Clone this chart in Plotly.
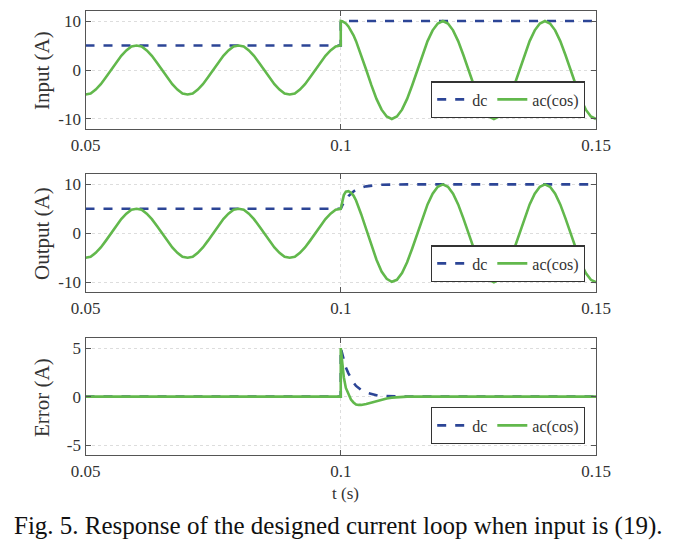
import plotly.graph_objects as go

# ---------------- data ----------------
t = [0.050, 0.051, 0.052, 0.053, 0.054, 0.055, 0.056, 0.057, 0.058, 0.059,
     0.060, 0.061, 0.062, 0.063, 0.064, 0.065, 0.066, 0.067, 0.068, 0.069,
     0.070, 0.071, 0.072, 0.073, 0.074, 0.075, 0.076, 0.077, 0.078, 0.079,
     0.080, 0.081, 0.082, 0.083, 0.084, 0.085, 0.086, 0.087, 0.088, 0.089,
     0.090, 0.091, 0.092, 0.093, 0.094, 0.095, 0.096, 0.097, 0.098, 0.099,
     0.100, 0.100,
     0.1003, 0.1006, 0.1010, 0.1015, 0.1020, 0.1025, 0.1030, 0.1035, 0.1040,
     0.105, 0.106, 0.107, 0.108, 0.109, 0.110, 0.111, 0.112, 0.113, 0.114,
     0.115, 0.116, 0.117, 0.118, 0.119, 0.120, 0.121, 0.122, 0.123, 0.124,
     0.125, 0.126, 0.127, 0.128, 0.129, 0.130, 0.131, 0.132, 0.133, 0.134,
     0.135, 0.136, 0.137, 0.138, 0.139, 0.140, 0.141, 0.142, 0.143, 0.144,
     0.145, 0.146, 0.147, 0.148, 0.149, 0.150]

ac_before = [-5.0, -4.8, -4.0, -2.9, -1.5, 0.0, 1.5, 2.9, 4.0, 4.8,
             5.0, 4.8, 4.0, 2.9, 1.5, 0.0, -1.5, -2.9, -4.0, -4.8,
             -5.0, -4.8, -4.0, -2.9, -1.5, 0.0, 1.5, 2.9, 4.0, 4.8,
             5.0, 4.8, 4.0, 2.9, 1.5, 0.0, -1.5, -2.9, -4.0, -4.8,
             -5.0, -4.8, -4.0, -2.9, -1.5, 0.0, 1.5, 2.9, 4.0, 4.8]

input_dc = [5.0] * 50 + [5.0, 10.0] + [10.0] * 9 + [10.0] * 46
input_ac = ac_before + [5.0, 10.0] + \
    [9.96, 9.8, 9.5, 8.9, 8.1, 7.1, 5.9, 4.5, 3.1] + \
    [0.0, -3.1, -5.9, -8.1, -9.5, -10.0, -9.5, -8.1, -5.9, -3.1,
     0.0, 3.1, 5.9, 8.1, 9.5, 10.0, 9.5, 8.1, 5.9, 3.1,
     0.0, -3.1, -5.9, -8.1, -9.5, -10.0, -9.5, -8.1, -5.9, -3.1,
     0.0, 3.1, 5.9, 8.1, 9.5, 10.0, 9.5, 8.1, 5.9, 3.1,
     0.0, -3.1, -5.9, -8.1, -9.5, -10.0]

output_dc = [5.0] * 50 + [5.0, 5.0] + \
    [5.7, 6.3, 7.0, 7.6, 8.15, 8.55, 8.9, 9.13, 9.32] + \
    [9.59, 9.75, 9.85, 9.91, 9.95, 9.97, 9.98, 9.99] + [10.0] * 38
output_ac = ac_before + [5.0, 5.0] + \
    [6.6, 7.8, 8.5, 8.6, 8.3, 7.7, 6.7, 5.4, 3.9] + \
    [0.8, -2.5, -5.4, -7.8, -9.3, -9.9, -9.5, -8.1,
     -5.9, -3.1,
     0.0, 3.1, 5.9, 8.1, 9.5, 10.0, 9.5, 8.1, 5.9, 3.1,
     0.0, -3.1, -5.9, -8.1, -9.5, -10.0, -9.5, -8.1, -5.9, -3.1,
     0.0, 3.1, 5.9, 8.1, 9.5, 10.0, 9.5, 8.1, 5.9, 3.1,
     0.0, -3.1, -5.9, -8.1, -9.5, -10.0]

error_dc = [0.0] * 50 + [0.0, 5.0] + \
    [4.3, 3.7, 3.0, 2.4, 1.85, 1.45, 1.1, 0.87, 0.68] + \
    [0.41, 0.25, 0.15, 0.09, 0.05, 0.03, 0.02, 0.01] + [0.0] * 38
error_ac = [0.0] * 50 + [0.0, 5.0] + \
    [3.4, 2.0, 0.9, 0.2, -0.3, -0.6, -0.8, -0.85, -0.85] + \
    [-0.75, -0.6, -0.45, -0.3, -0.18, -0.1, -0.05, -0.02] + [0.0] * 38

x_ticks = [0.05, 0.1, 0.15]
x_ticktext = ["0.05", "0.1", "0.15"]
y_ticks_io = [-10, 0, 10]
y_ticktext_io = ["-10", "0", "10"]
y_ticks_err = [-5, 0, 5]
y_ticktext_err = ["-5", "0", "5"]

panel_titles = ["Input (A)", "Output (A)", "Error (A)"]
series_names = ["dc", "ac(cos)"]
x_title = "t (s)"
caption = "Fig. 5. Response of the designed current loop when input is (19)."

# ---------------- styling ----------------
# the page body has an 8px margin, so the figure is 8px smaller than the window
OFF = 8
W, H = 677 - OFF, 546 - OFF


def px(x):
    return (x - OFF) / W


def py(y):
    return 1 - (y - OFF) / H


BLUE = "#2c4596"
GREEN = "#62b84c"
FONT = "Liberation Serif"
TXT = "#333333"
AXC = "#555555"

x0, x1 = px(85.5), px(596)
ydoms = [(py(129), py(11)), (py(292.3), py(174.3)), (py(455), py(338.3))]
legend_bottoms = [py(118.3), py(282.3), py(444.3)]

fig = go.Figure()
data = [(input_dc, input_ac), (output_dc, output_ac), (error_dc, error_ac)]
for i, (dc, ac) in enumerate(data):
    suffix = "" if i == 0 else str(i + 1)
    lg = "legend" + suffix
    fig.add_trace(go.Scatter(x=t, y=dc, mode="lines", name=series_names[0],
                             line=dict(color=BLUE, width=2.6, dash="dash"),
                             xaxis="x" + suffix, yaxis="y" + suffix, legend=lg))
    fig.add_trace(go.Scatter(x=t, y=ac, mode="lines", name=series_names[1],
                             line=dict(color=GREEN, width=2.6),
                             xaxis="x" + suffix, yaxis="y" + suffix, legend=lg))

layout = dict(width=W, height=H, margin=dict(l=0, r=0, t=0, b=0),
              paper_bgcolor="white", plot_bgcolor="white",
              font=dict(family=FONT, size=16, color=TXT), showlegend=True)

annotations = []
ycenters = [71, 234, 398]
for i in range(3):
    suffix = "" if i == 0 else str(i + 1)
    xa = dict(domain=[x0, x1], range=[0.05, 0.15], anchor="y" + suffix,
              tickvals=x_ticks, ticktext=x_ticktext, ticks="inside", ticklen=5,
              tickcolor=AXC, showline=True, linecolor=AXC, linewidth=1.2,
              mirror="ticks", showgrid=True, gridcolor="#dddddd",
              griddash="dot", gridwidth=1, zeroline=False, automargin=False,
              tickfont=dict(family=FONT, size=17, color=TXT))
    if i == 2:
        yr, yv, yt = [-6, 6], y_ticks_err, y_ticktext_err
    else:
        yr, yv, yt = [-12.05, 12.05], y_ticks_io, y_ticktext_io
    ya = dict(domain=list(ydoms[i]), range=yr, anchor="x" + suffix,
              tickvals=yv, ticktext=yt, ticks="inside", ticklen=5,
              tickcolor=AXC, showline=True, linecolor=AXC, linewidth=1.2,
              mirror="ticks", showgrid=True, gridcolor="#dddddd",
              griddash="dot", gridwidth=1, zeroline=False, automargin=False,
              tickfont=dict(family=FONT, size=17, color=TXT))
    layout["xaxis" + suffix] = xa
    layout["yaxis" + suffix] = ya
    layout["legend" + suffix] = dict(
        orientation="h", x=px(585), xanchor="right", y=legend_bottoms[i],
        yanchor="bottom", bgcolor="white", bordercolor="#333333", borderwidth=1.2,
        font=dict(family=FONT, size=16, color=TXT), itemwidth=30,
        tracegroupgap=0, itemclick=False)
    annotations.append(dict(text=panel_titles[i], x=px(42), y=py(ycenters[i]),
                            xref="paper", yref="paper", showarrow=False,
                            textangle=-90, xanchor="center", yanchor="middle",
                            font=dict(family=FONT, size=21, color=TXT)))

annotations.append(dict(text=x_title, x=px(345), y=py(493),
                        xref="paper", yref="paper", showarrow=False,
                        xanchor="center", yanchor="middle",
                        font=dict(family=FONT, size=17, color=TXT)))
annotations.append(dict(text=caption, x=px(338.5), y=py(526), xref="paper",
                        yref="paper", showarrow=False, xanchor="center",
                        yanchor="middle",
                        font=dict(family="Liberation Serif", size=25,
                                  color="#111111")))
layout["annotations"] = annotations
fig.update_layout(**layout)
fig.write_html("out.html")
